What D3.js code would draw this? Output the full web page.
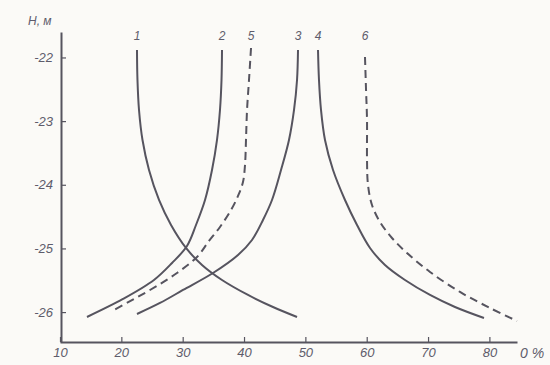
<!DOCTYPE html>
<html>
<head>
<meta charset="utf-8">
<script src="https://cdn.jsdelivr.net/npm/d3@7"></script>
<style>
  html, body { margin: 0; padding: 0; background: #fbfaf7; }
  svg { display: block; }
  text { font-family: "Liberation Sans", "DejaVu Sans", sans-serif; font-style: italic; fill: #5e5c6b; }
</style>
</head>
<body>
<svg id="chart" width="550" height="365"></svg>
<script>
// ---- data ----
const xTicks = [10, 20, 30, 40, 50, 60, 70, 80];
const xTickLabels = ["10", "20", "30", "40", "50", "60", "70", "80"];
const yTicks = [-22, -23, -24, -25, -26];
const yTickLabels = ["-22", "-23", "-24", "-25", "-26"];
const xTitle = "0 %";
const yTitle = "H, м";

const curveNames = ["1", "2", "5", "3", "4", "6"];
const curveDashed = [false, false, true, false, false, true];
const curveLabelH = -21.73;

const curve1Pct = [22.55, 22.63, 22.88, 23.45, 24.51, 26.14, 28.10, 30.54, 33.15, 36.41, 40.65, 44.72, 48.64];
const curve1H   = [-21.883, -22.354, -22.825, -23.297, -23.768, -24.239, -24.632, -24.993, -25.260, -25.496, -25.731, -25.920, -26.077];

const curve2Pct = [36.41, 36.33, 36.08, 35.59, 34.78, 33.64, 32.17, 30.70, 28.26, 25.32, 20.27, 14.40];
const curve2H   = [-21.883, -22.354, -22.825, -23.297, -23.768, -24.239, -24.632, -24.962, -25.229, -25.496, -25.794, -26.077];

const curve5Pct = [41.14, 40.81, 40.49, 40.32, 40.16, 39.83, 39.02, 37.88, 36.08, 34.29, 32.33, 29.07, 24.67, 18.48];
const curve5H   = [-21.851, -22.354, -22.825, -23.297, -23.689, -23.956, -24.176, -24.396, -24.663, -24.883, -25.134, -25.386, -25.653, -25.983];

const curve3Pct = [48.80, 48.64, 48.15, 47.33, 46.03, 44.56, 43.09, 41.30, 39.02, 34.94, 30.05, 26.30, 22.55];
const curve3H   = [-21.883, -22.354, -22.825, -23.297, -23.768, -24.239, -24.553, -24.867, -25.103, -25.386, -25.653, -25.857, -26.030];

const curve4Pct = [52.06, 52.22, 52.55, 53.20, 54.51, 56.46, 58.42, 60.54, 62.98, 66.24, 70.32, 74.39, 79.12];
const curve4H   = [-21.883, -22.354, -22.825, -23.297, -23.768, -24.239, -24.632, -24.993, -25.260, -25.496, -25.731, -25.920, -26.093];

const curve6Pct = [59.72, 59.89, 60.05, 60.05, 60.21, 60.86, 62.17, 64.12, 66.57, 70.32, 75.21, 80.10, 84.50];
const curve6H   = [-21.993, -22.511, -22.982, -23.611, -24.003, -24.318, -24.585, -24.836, -25.072, -25.370, -25.684, -25.936, -26.140];

const curvePct = [curve1Pct, curve2Pct, curve5Pct, curve3Pct, curve4Pct, curve6Pct];
const curveH   = [curve1H, curve2H, curve5H, curve3H, curve4H, curve6H];

// ---- drawing ----
const svg = d3.select("#chart");
const ink = "#56545f";

const x = d3.scaleLinear().domain([10, 84.5]).range([60, 517]);
const y = d3.scaleLinear().domain([-21.6, -26.47]).range([32, 342]);

// axes
const xAxis = d3.axisBottom(x).tickValues(xTicks)
  .tickFormat((d, i) => xTickLabels[i]).tickSizeInner(-5).tickSizeOuter(0).tickPadding(6);
const gx = svg.append("g").attr("transform", `translate(0,${y.range()[1]})`).call(xAxis);
gx.select(".domain").attr("stroke", ink).attr("stroke-width", 2);
gx.selectAll(".tick line").attr("stroke", ink).attr("stroke-width", 1.2);
gx.selectAll(".tick text").attr("font-size", 13).style("fill", "#5e5c6b")
  .style("font-family", "'Liberation Sans', sans-serif").style("font-style", "italic");

const yAxis = d3.axisLeft(y).tickValues(yTicks)
  .tickFormat((d, i) => yTickLabels[i]).tickSizeInner(-5).tickSizeOuter(0).tickPadding(8);
const gy = svg.append("g").attr("transform", `translate(${x.range()[0] + 1},0)`).call(yAxis);
gy.select(".domain").attr("stroke", ink).attr("stroke-width", 2);
gy.selectAll(".tick line").attr("stroke", ink).attr("stroke-width", 1.2);
gy.selectAll(".tick text").attr("font-size", 13).style("fill", "#5e5c6b")
  .style("font-family", "'Liberation Sans', sans-serif").style("font-style", "italic");

// axis titles
svg.append("text").attr("x", x.range()[1] + 3).attr("y", y.range()[1] + 16)
  .attr("font-size", 14).text(xTitle);
svg.append("text").attr("x", 28).attr("y", 25)
  .attr("font-size", 12).text(yTitle);

// curves
const line = d3.line()
  .x(d => x(d[0])).y(d => y(d[1]))
  .curve(d3.curveCatmullRom.alpha(0.5));

curveNames.forEach((name, i) => {
  const pts = curvePct[i].map((p, j) => [p, curveH[i][j]]);
  svg.append("path")
    .attr("d", line(pts))
    .attr("fill", "none")
    .attr("stroke", ink)
    .attr("stroke-width", 2)
    .attr("stroke-dasharray", curveDashed[i] ? "8,5" : null)
    .attr("stroke-linecap", "butt");
  svg.append("text")
    .attr("x", x(curvePct[i][0]))
    .attr("y", y(curveLabelH))
    .attr("text-anchor", "middle")
    .attr("font-size", 12)
    .text(name);
});
</script>
</body>
</html>
